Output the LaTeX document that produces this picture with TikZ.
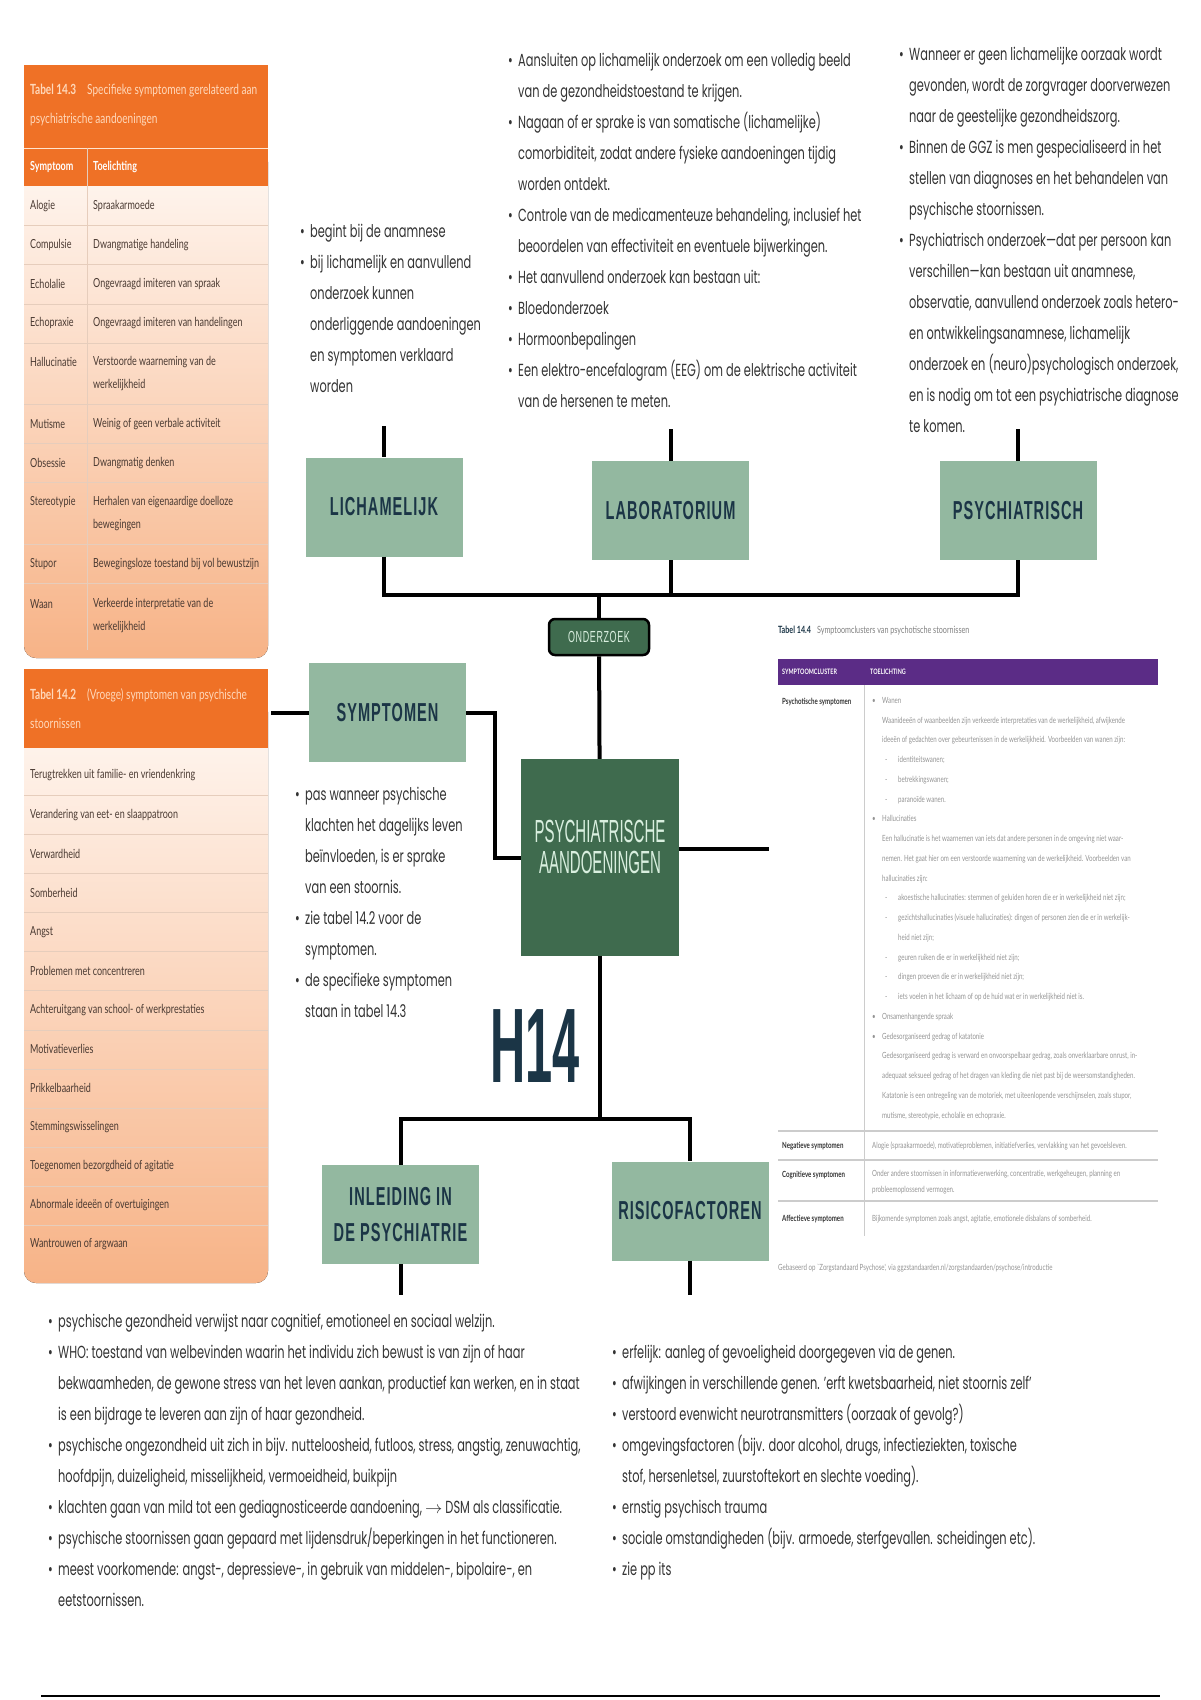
\documentclass[tikz,border=0pt]{standalone}
\usepackage{fontspec}
\setmainfont{Poppins}[FakeStretch=0.65]
\newfontfamily\tabfont{Lato}[FakeStretch=0.72]
\newfontfamily\headfont{Liberation Sans}[FakeStretch=0.56,LetterSpace=4]
\newfontfamily\capfont{Liberation Sans}[FakeStretch=0.47]
\newfontfamily\numfont{Liberation Sans}[FakeStretch=0.46]
\definecolor{sage}{HTML}{93B8A0}
\definecolor{navy}{HTML}{1B3546}
\definecolor{forest}{HTML}{3F6B4E}
\definecolor{mint}{HTML}{D9EFDF}
\definecolor{ink}{HTML}{333333}
\definecolor{tangerine}{HTML}{EF7126}
\definecolor{peach}{HTML}{F7B387}
\definecolor{cream}{HTML}{FFF8F3}
\definecolor{tabink}{HTML}{4A3A32}
\definecolor{tabhead}{HTML}{FFD8BA}
\definecolor{grape}{HTML}{5B2C86}
\definecolor{rowrule}{HTML}{E6CDBC}
\newcommand{\bu}{\makebox[10pt][l]{\textbullet}}
\newcommand{\ct}{\hspace*{10pt}}
\newcommand{\sbu}{\hspace*{13pt}\makebox[13pt][l]{-}}
\newcommand{\sct}{\hspace*{26pt}}

\begin{document}
\begin{tikzpicture}[x=1pt, y=-1pt,
  hbox/.style={fill=sage, minimum width=157pt, minimum height=99pt, inner sep=0pt, align=center, text=navy, font=\headfont\bfseries\fontsize{26}{36}\selectfont},
  psabox/.style={fill=forest, minimum width=158pt, minimum height=197pt, inner sep=0pt},
  psalbl/.style={inner sep=0pt, align=center, text=mint, font=\capfont\fontsize{32}{31}\selectfont},
  ondbox/.style={draw=black, line width=2.5pt, fill=forest, rounded corners=6pt, minimum width=100pt, minimum height=36pt, inner sep=0pt, text=mint, font=\headfont\fontsize{16}{16}\selectfont},
  notes/.style={anchor=north west, inner sep=0pt, align=left, text=ink, font=\fontsize{17.5}{31}\selectfont},
  tabtxt/.style={anchor=west, inner sep=0pt, align=left, text=tabink, font=\tabfont\fontsize{12.5}{23}\selectfont},
  tabttl/.style={anchor=west, inner sep=0pt, align=left, text=tabhead, font=\tabfont\fontsize{14}{29}\selectfont},
  colhd/.style={anchor=west, inner sep=0pt, text=white, font=\tabfont\bfseries\fontsize{12.5}{14}\selectfont},
  clabel/.style={anchor=west, inner sep=0pt, text=ink, font=\tabfont\bfseries\fontsize{8.5}{10}\selectfont},
  cluster/.style={anchor=north west, inner sep=0pt, align=left, text=gray!85, font=\tabfont\fontsize{8.5}{19.75}\selectfont},
  link/.style={line width=4pt, black}
]
\useasboundingbox (0,0) rectangle (1200,1700);

% tabel 14.3
\fill[top color=cream, bottom color=peach, rounded corners=12pt] (24,150) rectangle (268,658);
\fill[tangerine] (24,65) rectangle (268,186);
\draw[tabhead!70, line width=0.6pt] (24,148) -- (268,148);
\draw[rowrule, line width=0.8pt] (87,148) -- (87,650);
\draw[rowrule, line width=1pt] (24,225) -- (268,225) (24,264) -- (268,264) (24,304) -- (268,304)
  (24,343) -- (268,343) (24,404) -- (268,404) (24,443) -- (268,443) (24,482) -- (268,482)
  (24,544) -- (268,544) (24,583) -- (268,583);
\node[tabttl] (t3title) at (30,105.5) {\makebox[57pt][l]{\bfseries Tabel 14.3}Specifieke symptomen gerelateerd aan\\psychiatrische aandoeningen};
\node[colhd] (t3colA) at (30,167) {Symptoom};
\node[colhd] (t3colB) at (93,167) {Toelichting};
\node[tabtxt] (alogie) at (30,206) {Alogie};
\node[tabtxt] (alogieB) at (93,206) {Spraakarmoede};
\node[tabtxt] (compul) at (30,245) {Compulsie};
\node[tabtxt] (compulB) at (93,245) {Dwangmatige handeling};
\node[tabtxt] (echol) at (30,284) {Echolalie};
\node[tabtxt] (echolB) at (93,284) {Ongevraagd imiteren van spraak};
\node[tabtxt] (echop) at (30,323) {Echopraxie};
\node[tabtxt] (echopB) at (93,323) {Ongevraagd imiteren van handelingen};
\node[tabtxt] (halluc) at (30,362) {Hallucinatie};
\node[tabtxt] (hallucB) at (93,373.5) {Verstoorde waarneming van de\\werkelijkheid};
\node[tabtxt] (mutis) at (30,424) {Mutisme};
\node[tabtxt] (mutisB) at (93,424) {Weinig of geen verbale activiteit};
\node[tabtxt] (obses) at (30,463) {Obsessie};
\node[tabtxt] (obsesB) at (93,463) {Dwangmatig denken};
\node[tabtxt] (stereo) at (30,502) {Stereotypie};
\node[tabtxt] (stereoB) at (93,513.5) {Herhalen van eigenaardige doelloze\\bewegingen};
\node[tabtxt] (stupor) at (30,564) {Stupor};
\node[tabtxt] (stuporB) at (93,564) {Bewegingsloze toestand bij vol bewustzijn};
\node[tabtxt] (waan) at (30,604) {Waan};
\node[tabtxt] (waanB) at (93,615.5) {Verkeerde interpretatie van de\\werkelijkheid};

% tabel 14.2
\fill[top color=cream, bottom color=peach, rounded corners=12pt] (24,700) rectangle (268,1283);
\fill[tangerine] (24,669) rectangle (268,748);
\draw[rowrule, line width=1pt] (24,795) -- (268,795) (24,834) -- (268,834) (24,873) -- (268,873)
  (24,912) -- (268,912) (24,951) -- (268,951) (24,990) -- (268,990) (24,1030) -- (268,1030)
  (24,1069) -- (268,1069) (24,1108) -- (268,1108) (24,1147) -- (268,1147) (24,1186) -- (268,1186)
  (24,1225) -- (268,1225);
\node[tabttl] (t2title) at (30,708.5) {\makebox[57pt][l]{\bfseries Tabel 14.2}(Vroege) symptomen van psychische\\stoornissen};
\node[tabtxt] (vr1) at (30,775) {Terugtrekken uit familie- en vriendenkring};
\node[tabtxt] (vr2) at (30,815) {Verandering van eet- en slaappatroon};
\node[tabtxt] (vr3) at (30,854) {Verwardheid};
\node[tabtxt] (vr4) at (30,893) {Somberheid};
\node[tabtxt] (vr5) at (30,932) {Angst};
\node[tabtxt] (vr6) at (30,971) {Problemen met concentreren};
\node[tabtxt] (vr7) at (30,1010) {Achteruitgang van school- of werkprestaties};
\node[tabtxt] (vr8) at (30,1049) {Motivatieverlies};
\node[tabtxt] (vr9) at (30,1088) {Prikkelbaarheid};
\node[tabtxt] (vr10) at (30,1127) {Stemmingswisselingen};
\node[tabtxt] (vr11) at (30,1166) {Toegenomen bezorgdheid of agitatie};
\node[tabtxt] (vr12) at (30,1205) {Abnormale ideeën of overtuigingen};
\node[tabtxt] (vr13) at (30,1244) {Wantrouwen of argwaan};

% tabel 14.4
\node[anchor=west, inner sep=0pt, text=gray, font=\tabfont\fontsize{10}{12}\selectfont] (t4title) at (778,631)
  {\textcolor{navy}{\bfseries Tabel 14.4}\hspace{6pt}Symptoomclusters van psychotische stoornissen};
\fill[grape] (778,659) rectangle (1158,685);
\draw[gray!40, line width=0.8pt] (864,685) -- (864,1236);
\draw[gray!40, line width=1.5pt] (778,1131) -- (1158,1131) (778,1160) -- (1158,1160) (778,1201) -- (1158,1201);
\node[colhd, font=\tabfont\bfseries\fontsize{7.5}{9}\selectfont] (t4colA) at (782,672) {SYMPTOOMCLUSTER};
\node[colhd, font=\tabfont\bfseries\fontsize{7.5}{9}\selectfont] (t4colB) at (870,672) {TOELICHTING};
\node[clabel] (psycho) at (782,702) {Psychotische symptomen};
\node[cluster] (psychoB) at (872,697) {\bu Wanen\\
\ct Waanideeën of waanbeelden zijn verkeerde interpretaties van de werkelijkheid, afwijkende\\
\ct ideeën of gedachten over gebeurtenissen in de werkelijkheid. Voorbeelden van wanen zijn:\\
\sbu identiteitswanen;\\
\sbu betrekkingswanen;\\
\sbu paranoïde wanen.\\
\bu Hallucinaties\\
\ct Een hallucinatie is het waarnemen van iets dat andere personen in de omgeving niet waar-\\
\ct nemen. Het gaat hier om een verstoorde waarneming van de werkelijkheid. Voorbeelden van\\
\ct hallucinaties zijn:\\
\sbu akoestische hallucinaties: stemmen of geluiden horen die er in werkelijkheid niet zijn;\\
\sbu gezichtshallucinaties (visuele hallucinaties): dingen of personen zien die er in werkelijk-\\
\sct heid niet zijn;\\
\sbu geuren ruiken die er in werkelijkheid niet zijn;\\
\sbu dingen proeven die er in werkelijkheid niet zijn;\\
\sbu iets voelen in het lichaam of op de huid wat er in werkelijkheid niet is.\\
\bu Onsamenhangende spraak\\
\bu Gedesorganiseerd gedrag of katatonie\\
\ct Gedesorganiseerd gedrag is verward en onvoorspelbaar gedrag, zoals onverklaarbare onrust, in-\\
\ct adequaat seksueel gedrag of het dragen van kleding die niet past bij de weersomstandigheden.\\
\ct Katatonie is een ontregeling van de motoriek, met uiteenlopende verschijnselen, zoals stupor,\\
\ct mutisme, stereotypie, echolalie en echopraxie.};
\node[clabel] (negat) at (782,1146) {Negatieve symptomen};
\node[cluster, anchor=west] (negatB) at (872,1146) {Alogie (spraakarmoede), motivatieproblemen, initiatiefverlies, vervlakking van het gevoelsleven.};
\node[clabel] (cogn) at (782,1175) {Cognitieve symptomen};
\node[cluster, anchor=north west, font=\tabfont\fontsize{8.5}{16}\selectfont] (cognB) at (872,1170) {Onder andere stoornissen in informatieverwerking, concentratie, werkgeheugen, planning en\\probleemoplossend vermogen.};
\node[clabel] (affect) at (782,1219) {Affectieve symptomen};
\node[cluster, anchor=west] (affectB) at (872,1219) {Bijkomende symptomen zoals angst, agitatie, emotionele disbalans of somberheid.};
\node[cluster, anchor=west] (source) at (778,1268) {Gebaseerd op `Zorgstandaard Psychose', via ggzstandaarden.nl/zorgstandaarden/psychose/introductie};

% mindmap boxes
\node[hbox] (lich) at (384,507) {LICHAMELIJK};
\node[hbox] (lab) at (670.5,510.5) {LABORATORIUM};
\node[hbox] (psy) at (1018,510.5) {PSYCHIATRISCH};
\node[ondbox] (ondz) at (599,637) {ONDERZOEK};
\node[hbox] (sym) at (387.5,712.5) {SYMPTOMEN};
\node[psabox] (psa) at (600,857.5) {};
\node[psalbl] (psaLbl) at (600,846.5) {PSYCHIATRISCHE\\AANDOENINGEN};
\node[inner sep=0pt, text=navy, font=\numfont\bfseries\fontsize{106}{106}\selectfont] (hfour) at (535,1046) {H14};
\node[hbox] (inl) at (400.5,1214.5) {INLEIDING IN\\DE PSYCHIATRIE};
\node[hbox] (risk) at (690,1211) {RISICOFACTOREN};

\coordinate (lichTop) at (384,426);
\coordinate (labTop) at (670.5,429);
\coordinate (psyTop) at (1018,429);
\coordinate (hub) at (599,595);
\coordinate (symStub) at (271,712.5);
\coordinate (psaStub) at (769,849);
\coordinate (fork) at (600,1119);
\coordinate (inlStub) at (400.5,1295);
\coordinate (riskStub) at (690,1295);

\draw[link] (lichTop) -- (lich);
\draw[link] (labTop) -- (lab);
\draw[link] (psyTop) -- (psy);
\draw[link] (lich) |- (hub);
\draw[link] (psy) |- (hub);
\draw[link] (lab) -- (lab |- hub);
\draw[link] (hub) -- (ondz);
\draw[link] (ondz) -- (psa);
\draw[link] (symStub) -- (sym);
\draw[link] (sym.east) -- ++(29,0) |- (psa.west);
\draw[link] (psa.east |- psaStub) -- (psaStub);
\draw[link] (psa) -- (fork);
\draw[link] (fork) -| (inl);
\draw[link] (fork) -| (risk);
\draw[link] (inl) -- (inlStub);
\draw[link] (risk) -- (riskStub);

% notes
\node[notes] (lichNotes) at (300,224) {\bu begint bij de anamnese\\
\bu bij lichamelijk en aanvullend\\
\ct onderzoek kunnen\\
\ct onderliggende aandoeningen\\
\ct en symptomen verklaard\\
\ct worden};
\node[notes] (labNotes) at (508,53) {\bu Aansluiten op lichamelijk onderzoek om een volledig beeld\\
\ct van de gezondheidstoestand te krijgen.\\
\bu Nagaan of er sprake is van somatische (lichamelijke)\\
\ct comorbiditeit, zodat andere fysieke aandoeningen tijdig\\
\ct worden ontdekt.\\
\bu Controle van de medicamenteuze behandeling, inclusief het\\
\ct beoordelen van effectiviteit en eventuele bijwerkingen.\\
\bu Het aanvullend onderzoek kan bestaan uit:\\
\bu Bloedonderzoek\\
\bu Hormoonbepalingen\\
\bu Een elektro-encefalogram (EEG) om de elektrische activiteit\\
\ct van de hersenen te meten.};
\node[notes] (psyNotes) at (899,47) {\bu Wanneer er geen lichamelijke oorzaak wordt\\
\ct gevonden, wordt de zorgvrager doorverwezen\\
\ct naar de geestelijke gezondheidszorg.\\
\bu Binnen de GGZ is men gespecialiseerd in het\\
\ct stellen van diagnoses en het behandelen van\\
\ct psychische stoornissen.\\
\bu Psychiatrisch onderzoek—dat per persoon kan\\
\ct verschillen—kan bestaan uit anamnese,\\
\ct observatie, aanvullend onderzoek zoals hetero-\\
\ct en ontwikkelingsanamnese, lichamelijk\\
\ct onderzoek en (neuro)psychologisch onderzoek,\\
\ct en is nodig om tot een psychiatrische diagnose\\
\ct te komen.};
\node[notes] (symNotes) at (295,787) {\bu pas wanneer psychische\\
\ct klachten het dagelijks leven\\
\ct beïnvloeden, is er sprake\\
\ct van een stoornis.\\
\bu zie tabel 14.2 voor de\\
\ct symptomen.\\
\bu de specifieke symptomen\\
\ct staan in tabel 14.3};
\node[notes] (inlNotes) at (48,1314) {\bu psychische gezondheid verwijst naar cognitief, emotioneel en sociaal welzijn.\\
\bu WHO: toestand van welbevinden waarin het individu zich bewust is van zijn of haar\\
\ct bekwaamheden, de gewone stress van het leven aankan, productief kan werken, en in staat\\
\ct is een bijdrage te leveren aan zijn of haar gezondheid.\\
\bu psychische ongezondheid uit zich in bijv. nutteloosheid, futloos, stress, angstig, zenuwachtig,\\
\ct hoofdpijn, duizeligheid, misselijkheid, vermoeidheid, buikpijn\\
\bu klachten gaan van mild tot een gediagnosticeerde aandoening, $\rightarrow$ DSM als classificatie.\\
\bu psychische stoornissen gaan gepaard met lijdensdruk/beperkingen in het functioneren.\\
\bu meest voorkomende: angst-, depressieve-, in gebruik van middelen-, bipolaire-, en\\
\ct eetstoornissen.};
\node[notes] (riskNotes) at (612,1345) {\bu erfelijk: aanleg of gevoeligheid doorgegeven via de genen.\\
\bu afwijkingen in verschillende genen. 'erft kwetsbaarheid, niet stoornis zelf'\\
\bu verstoord evenwicht neurotransmitters (oorzaak of gevolg?)\\
\bu omgevingsfactoren (bijv. door alcohol, drugs, infectieziekten, toxische\\
\ct stof, hersenletsel, zuurstoftekort en slechte voeding).\\
\bu ernstig psychisch trauma\\
\bu sociale omstandigheden (bijv. armoede, sterfgevallen. scheidingen etc).\\
\bu zie pp its};

\draw[line width=2pt] (41,1696) -- (1160,1696);
\end{tikzpicture}
\end{document}
